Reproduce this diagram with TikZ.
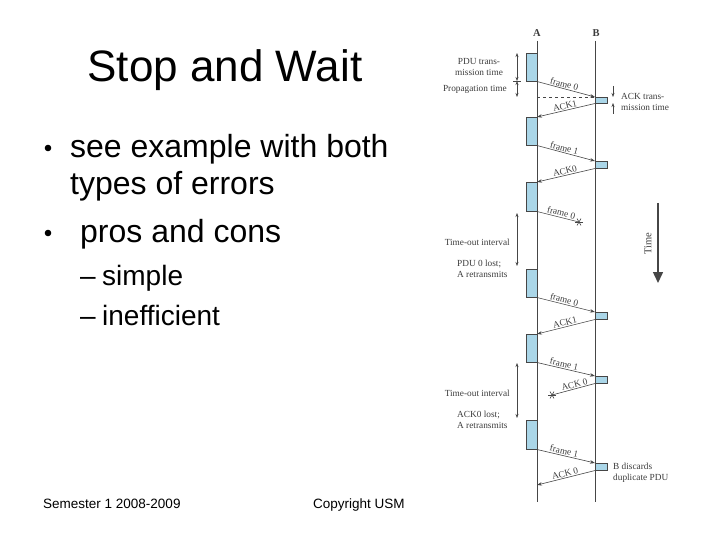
\documentclass[tikz,border=0pt]{standalone}
\usepackage{fontspec}
\setmainfont{Liberation Sans}
\newfontfamily\dgfont{Liberation Serif}
\usetikzlibrary{arrows.meta}
\definecolor{boxblue}{RGB}{170,214,232}
\definecolor{dgline}{RGB}{70,70,70}
\definecolor{dgtext}{RGB}{60,60,60}
\tikzset{
  pdubox/.style={draw=dgline, line width=0.5pt, fill=boxblue, inner sep=0pt, minimum width=11pt},
  ackbox/.style={draw=dgline, line width=0.5pt, fill=boxblue, inner sep=0pt, minimum width=12pt, minimum height=7pt},
  msg/.style={draw=dgline, line width=0.6pt, -{Stealth[length=5pt,width=3.5pt]}},
  lost/.style={draw=dgline, line width=0.6pt},
  lbl/.style={font=\dgfont\fontsize{9.3}{11}\selectfont, text=dgtext, inner sep=1pt},
  dimarrow/.style={draw=dgline, line width=0.5pt, {Stealth[length=4pt,width=3pt]}-{Stealth[length=4pt,width=3pt]}},
  onearrow/.style={draw=dgline, line width=0.5pt, -{Stealth[length=4pt,width=3pt]}},
  timeline/.style={draw=dgline, line width=0.7pt},
  slide/.style={inner sep=0pt, text=black},
}
\begin{document}
\begin{tikzpicture}[x=1pt,y=-1pt]
\useasboundingbox (0,0) rectangle (720,540);

% ---------- left slide text ----------
\node[slide, anchor=base, font=\fontsize{44}{44}\selectfont] (title) at (225,82) {Stop and Wait};
\fill (48,148) circle (3.3);
\node[slide, anchor=base west, font=\fontsize{32}{32}\selectfont] (b1l1) at (70,158) {see example with both};
\node[slide, anchor=base west, font=\fontsize{32}{32}\selectfont] (b1l2) at (70,195) {types of errors};
\fill (48,233) circle (3.3);
\node[slide, anchor=base west, font=\fontsize{32}{32}\selectfont] (b2) at (80,242) {pros and cons};
\node[slide, anchor=base west, font=\fontsize{28}{28}\selectfont] (d1) at (80,285) {–};
\node[slide, anchor=base west, font=\fontsize{28}{28}\selectfont] (s1) at (102,285) {simple};
\node[slide, anchor=base west, font=\fontsize{28}{28}\selectfont] (d2) at (80,325) {–};
\node[slide, anchor=base west, font=\fontsize{28}{28}\selectfont] (s2) at (102,325) {inefficient};
\node[slide, anchor=base west, font=\fontsize{13.5}{14}\selectfont] (foot1) at (43,508) {Semester 1 2008-2009};
\node[slide, anchor=base west, font=\fontsize{13.5}{14}\selectfont] (foot2) at (313,508) {Copyright USM};

% ---------- time lines ----------
\node[lbl, font=\dgfont\bfseries\fontsize{10.5}{10.5}\selectfont] (labA) at (537,33) {A};
\node[lbl, font=\dgfont\bfseries\fontsize{10.5}{10.5}\selectfont] (labB) at (596,33) {B};
\coordinate (Abot) at (537,502);
\coordinate (Bbot) at (595,502);
\draw[timeline] (537,41) -- (Abot);
\draw[timeline] (595,41) -- (Bbot);

% ---------- boxes ----------
\node[pdubox, minimum height=28pt, anchor=north east] (a1) at (537,53) {};
\node[pdubox, minimum height=28pt, anchor=north east] (a2) at (537,117) {};
\node[pdubox, minimum height=29pt, anchor=north east] (a3) at (537,182) {};
\node[pdubox, minimum height=28pt, anchor=north east] (a4) at (537,269) {};
\node[pdubox, minimum height=28pt, anchor=north east] (a5) at (537,334) {};
\node[pdubox, minimum height=29pt, anchor=north east] (a6) at (537,420) {};
\node[ackbox, minimum height=6pt, anchor=north west] (k1) at (595,97) {};
\node[ackbox, anchor=north west] (k2) at (595,161) {};
\node[ackbox, anchor=north west] (k3) at (595,312) {};
\node[ackbox, anchor=north west] (k4) at (595,376) {};
\node[ackbox, anchor=north west] (k5) at (595,463) {};

% ---------- messages ----------
\draw[dgline, line width=0.5pt, dashed] (a1.south east |- k1.north west) -- (k1.north west);
\draw[msg] (a1.south east) -- node[lbl, sloped, above, pos=0.45] {frame 0} (k1.north west);
\draw[msg] (k1.south west) -- node[lbl, sloped, above, pos=0.5] {ACK1} (a2.north east);
\draw[msg] (a2.south east) -- node[lbl, sloped, above, pos=0.45] {frame 1} (k2.north west);
\draw[msg] (k2.south west) -- node[lbl, sloped, above, pos=0.5] {ACK0} (a3.north east);
\coordinate (x1) at (579,222);
\draw[lost] (a3.south east) -- node[lbl, sloped, above, pos=0.55] {frame 0} (x1);
\foreach \a in {0,60,120} \draw[dgline, line width=0.6pt] (x1) ++(\a:4) -- ++(\a+180:8);
\draw[msg] (a4.south east) -- node[lbl, sloped, above, pos=0.45] {frame 0} (k3.north west);
\draw[msg] (k3.south west) -- node[lbl, sloped, above, pos=0.5] {ACK1} (a5.north east);
\draw[msg] (a5.south east) -- node[lbl, sloped, above, pos=0.45] {frame 1} (k4.north west);
\coordinate (x2) at (552,395);
\draw[lost] (k4.south west) -- node[lbl, sloped, above, pos=0.45] {ACK 0} (x2);
\foreach \a in {0,60,120} \draw[dgline, line width=0.6pt] (x2) ++(\a:4) -- ++(\a+180:8);
\draw[msg] (a6.south east) -- node[lbl, sloped, above, pos=0.45] {frame 1} (k5.north west);
\draw[msg] (k5.south west) -- node[lbl, sloped, above, pos=0.5] {ACK 0} (Abot |- 0,485);

% ---------- annotations ----------
\coordinate (p1) at (517,53);
\coordinate (p2) at (517,81);
\coordinate (p3) at (517,97);
\draw[dimarrow] (p1) -- (p2);
\draw[dimarrow] (p2) -- (p3);
\draw[dgline, line width=0.5pt] (513,81) -- (521,81);
\node[lbl, align=center] (ptt) at (479,67.5) {PDU trans-\\mission time};
\node[lbl, anchor=east] (prop) at (508,89) {Propagation time};

\coordinate (q1) at (613,86);
\coordinate (q2) at (613,97);
\coordinate (q3) at (613,114);
\coordinate (q4) at (613,103);
\draw[onearrow] (q1) -- (q2);
\draw[onearrow] (q3) -- (q4);
\node[lbl, anchor=west, align=left] (att) at (620,101.5) {ACK trans-\\mission time};

\coordinate (t1a) at (517,213);
\coordinate (t1b) at (517,266);
\draw[dimarrow] (t1a) -- (t1b);
\node[lbl, anchor=east] (to1) at (511,242) {Time-out interval};
\node[lbl, anchor=west, align=left] (lost1) at (456,268.5) {PDU 0 lost;\\A retransmits};

\coordinate (t2a) at (517,363);
\coordinate (t2b) at (517,418);
\draw[dimarrow] (t2a) -- (t2b);
\node[lbl, anchor=east] (to2) at (511,393) {Time-out interval};
\node[lbl, anchor=west, align=left] (lost2) at (456,419.5) {ACK0 lost;\\A retransmits};

\node[lbl, anchor=west, align=left] (disc) at (612,472.5) {B discards\\duplicate PDU};

% ---------- time arrow ----------
\coordinate (tm0) at (658,203);
\coordinate (tm1) at (658,283);
\draw[dgline, line width=1.5pt, -{Triangle[length=11pt,width=10pt]}] (tm0) -- (tm1);
\node[lbl, rotate=90, font=\dgfont\fontsize{10.5}{11}\selectfont] (timelbl) at (648,244) {Time};
\end{tikzpicture}
\end{document}
